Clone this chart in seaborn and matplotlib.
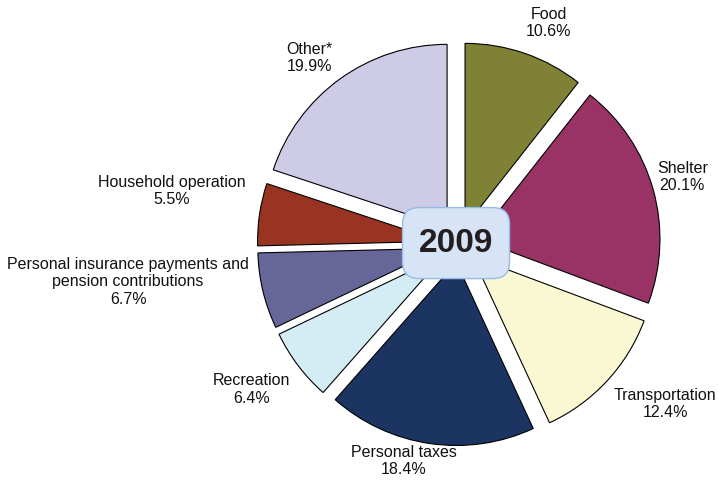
import numpy as np
import matplotlib
matplotlib.use("Agg")
import matplotlib.pyplot as plt
import seaborn as sns
from matplotlib.patches import FancyBboxPatch

# data
categories = ["Food", "Shelter", "Transportation", "Personal taxes", "Recreation",
              "Personal insurance payments and\npension contributions",
              "Household operation", "Other*"]
shares = [10.6, 20.1, 12.4, 18.4, 6.4, 6.7, 5.5, 19.9]
year_label = "2009"

colors = ["#7f8134", "#993366", "#faf8d2", "#1c3461", "#d4ecf3",
          "#666699", "#993322", "#cecbe6"]
explode = [0.1, 0.1, 0.1, 0.1, 0.1, 0.1, 0.1, 0.11]

# label radius (in pie radii) and small angle nudges, degrees
label_dist = [1.29, 1.26, 1.41, 1.21, 1.37, 1.80, 1.58, 1.29]
label_dang = [-3, 1, 5, -6, -2, -7, -2, 3]

sns.set_style("white")
plt.rcParams["font.family"] = ["Liberation Sans", "DejaVu Sans"]

fig = plt.figure(figsize=(7.18, 4.91), dpi=100)
ax = fig.add_axes([0, 0, 1, 1])

wedges, _ = ax.pie(shares, colors=colors, explode=explode, startangle=90,
                   counterclock=False, radius=0.99,
                   wedgeprops=dict(edgecolor="black", linewidth=0.8))

for w, name, val, d, da in zip(wedges, categories, shares, label_dist, label_dang):
    ang = np.deg2rad((w.theta1 + w.theta2) / 2 + da)
    ax.text(d * np.cos(ang), d * np.sin(ang), f"{name}\n{val:.1f}%",
            ha="center", va="center", fontsize=11.5, color="#111111",
            linespacing=1.2)

bw, bh = 107 / 185, 71 / 185
box = FancyBboxPatch((-0.016 - bw / 2, 0.005 - bh / 2), bw, bh,
                     boxstyle="round,pad=0,rounding_size=0.09",
                     facecolor="#d6e4f5", edgecolor="#95bbe6", linewidth=1.0,
                     zorder=5)
ax.add_patch(box)
ax.text(-0.016, 0.005, year_label, ha="center", va="center", fontsize=24,
        fontweight="bold", color="#231f20", zorder=6)

ax.set_xlim(-459 / 185, (718 - 459) / 185)
ax.set_ylim(-(491 - 244) / 185, 244 / 185)
ax.set_aspect("equal")
ax.axis("off")

fig.savefig("out.png", dpi=100, facecolor="white")
